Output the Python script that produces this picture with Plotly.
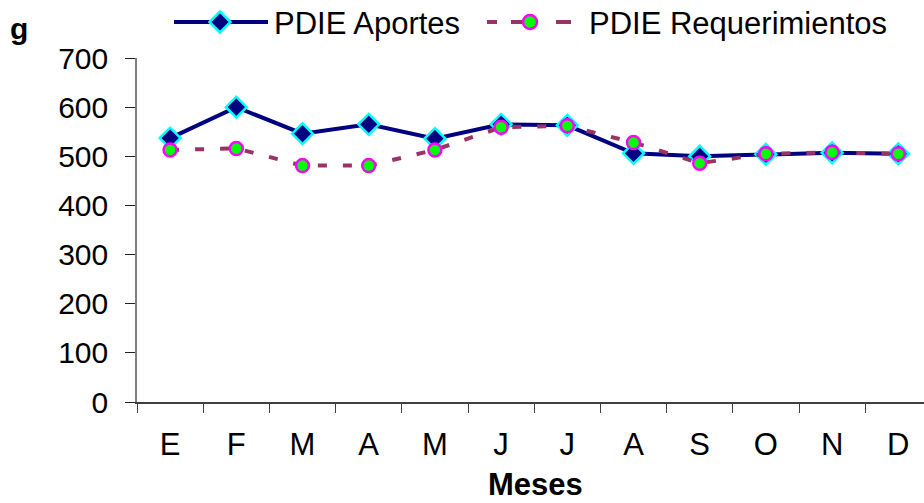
import plotly.graph_objects as go

months = ["E", "F", "M", "A", "M", "J", "J", "A", "S", "O", "N", "D"]
aportes = [537, 600, 546, 565, 536, 565, 563, 506, 500, 504, 507, 505]
requerimientos = [513, 516, 481, 481, 513, 559, 562, 528, 486, 505, 508, 505]
y_ticks = [0, 100, 200, 300, 400, 500, 600, 700]

W, H = 924, 503
L, R, T, B = 137, 0, 58, 101
FONT = "Liberation Sans, Arial, sans-serif"

NAVY = "#000080"
CYAN = "#00FFFF"
DASHC = "#993366"
GREEN = "#00FF00"
MAGENTA = "#FF00FF"

# use index positions so categories with duplicate names stay separate
xs = list(range(len(months)))

fig = go.Figure()
fig.add_trace(go.Scatter(
    x=xs, y=aportes, mode="lines+markers", name="PDIE Aportes",
    line=dict(color=NAVY, width=4),
    marker=dict(symbol="diamond", size=16, color=NAVY, line=dict(color=CYAN, width=2.5)),
    cliponaxis=False, showlegend=False,
))
fig.add_trace(go.Scatter(
    x=xs, y=requerimientos, mode="lines+markers", name="PDIE Requerimientos",
    line=dict(color=DASHC, width=4, dash="9px,16px"),
    marker=dict(symbol="circle", size=13, color=GREEN, line=dict(color=MAGENTA, width=2.5)),
    cliponaxis=False, showlegend=False,
))

pw, ph = W - L - R, H - T - B


def px2paper(px, py):
    return (px - L) / pw, (H - B - py) / ph


shapes = []
annotations = []

# legend item 1: solid navy line with diamond
x0, y0 = px2paper(174, 22)
x1, _ = px2paper(268, 22)
shapes.append(dict(type="line", xref="paper", yref="paper", x0=x0, x1=x1, y0=y0, y1=y0,
                   line=dict(color=NAVY, width=4)))
cx, cy = 220, 22
r = 10.5
pts = [(cx, cy - r), (cx + r, cy), (cx, cy + r), (cx - r, cy)]
pp = [px2paper(a, b) for a, b in pts]
path = "M{},{} L{},{} L{},{} L{},{} Z".format(*[v for p in pp for v in p])
shapes.append(dict(type="path", xref="paper", yref="paper", path=path,
                   fillcolor=NAVY, line=dict(color=CYAN, width=2.5)))
annotations.append(dict(x=px2paper(272, 0)[0], y=px2paper(0, 23)[1], xref="paper", yref="paper",
                        text="PDIE Aportes", showarrow=False, xanchor="left", yanchor="middle",
                        font=dict(family=FONT, size=31, color="black")))

# legend item 2: dashed line with circle
for a, b in [(487, 497), (511, 522), (556, 571)]:
    xa, ya = px2paper(a, 22)
    xb, _ = px2paper(b, 22)
    shapes.append(dict(type="line", xref="paper", yref="paper", x0=xa, x1=xb, y0=ya, y1=ya,
                       line=dict(color=DASHC, width=4)))
ca, cb = px2paper(530 - 7, 22 - 7)
cc, cd = px2paper(530 + 7, 22 + 7)
shapes.append(dict(type="circle", xref="paper", yref="paper", x0=ca, x1=cc, y0=cd, y1=cb,
                   fillcolor=GREEN, line=dict(color=MAGENTA, width=2.5)))
annotations.append(dict(x=px2paper(587, 0)[0], y=px2paper(0, 23)[1], xref="paper", yref="paper",
                        text="PDIE Requerimientos", showarrow=False, xanchor="left", yanchor="middle",
                        font=dict(family=FONT, size=31, color="black")))

# y-axis unit label and x-axis title
annotations.append(dict(x=px2paper(8, 0)[0], y=px2paper(0, 28)[1], xref="paper", yref="paper",
                        text="<b>g</b>", showarrow=False, xanchor="left", yanchor="middle",
                        font=dict(family=FONT, size=30, color="black")))
annotations.append(dict(x=px2paper(535, 0)[0], y=px2paper(0, 484)[1], xref="paper", yref="paper",
                        text="<b>Meses</b>", showarrow=False, xanchor="center", yanchor="middle",
                        font=dict(family=FONT, size=31, color="black")))

fig.update_layout(
    width=W, height=H,
    margin=dict(l=L, r=R, t=T, b=B, pad=0),
    paper_bgcolor="white", plot_bgcolor="white",
    font=dict(family=FONT, size=30, color="black"),
    shapes=shapes, annotations=annotations,
    showlegend=False,
)
fig.update_xaxes(
    tickmode="array", tickvals=xs, ticktext=months,
    range=[-0.5, -0.5 + pw / 66.2],
    showline=True, linecolor="#404040", linewidth=1.5,
    ticks="", ticklen=0,
    minor=dict(ticks="outside", ticklen=9, tickcolor="#404040", tickwidth=1,
               tick0=-0.5, dtick=1, showgrid=False),
    showgrid=False, zeroline=False,
    tickfont=dict(family=FONT, size=31, color="black"),
    ticklabelstandoff=14,
)
fig.update_yaxes(
    range=[0, 700], tickmode="array", tickvals=y_ticks,
    showline=True, linecolor="#808080", linewidth=1.5,
    ticks="outside", ticklen=10, tickcolor="#202020", tickwidth=1,
    showgrid=False, zeroline=False,
    tickfont=dict(family=FONT, size=30, color="black"),
    ticklabelstandoff=11,
)

fig.write_html("out.html")
